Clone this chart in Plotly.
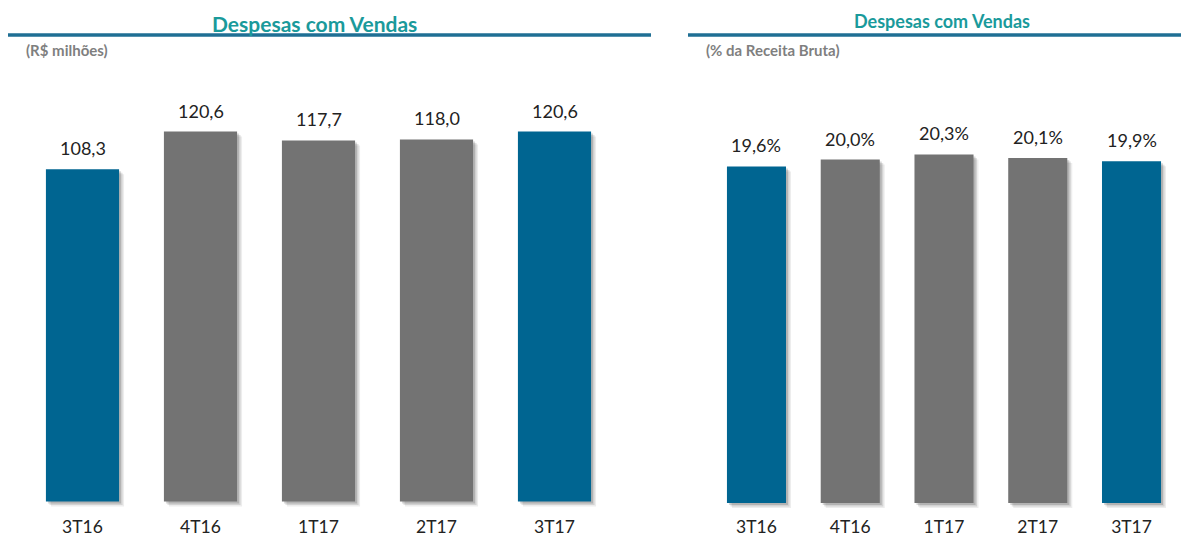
import plotly.graph_objects as go

categories = ["3T16", "4T16", "1T17", "2T17", "3T17"]
values_rs = [108.3, 120.6, 117.7, 118.0, 120.6]
values_pct = [19.6, 20.0, 20.3, 20.1, 19.9]
labels_rs = ["108,3", "120,6", "117,7", "118,0", "120,6"]
labels_pct = ["19,6%", "20,0%", "20,3%", "20,1%", "19,9%"]

BLUE = "#006591"
GRAY = "#737373"
TEAL = "#1a9a9b"
LINE = "#1f6f94"
colors = [BLUE, GRAY, GRAY, GRAY, BLUE]

W, H = 1181, 537
FONT = "Lato"

fig = go.Figure()


def px_x(p):
    return p / W


def px_y(p):
    return (H - p) / H


def add_panel(xa, ya, vals, labels, x0, x1, zero_px, ppu, top_val, width_frac, standoff):
    bottom = -6.0 / ppu
    top_px = zero_px - top_val * ppu
    bot_px = zero_px + 6.0
    xname = "x" if xa == "xaxis" else "x2"
    yname = "y" if ya == "yaxis" else "y2"
    cat_px = (x1 - x0) / len(vals)
    half = width_frac / 2
    for dx, dy, a in [(5, 5, 0.07), (3.5, 3.5, 0.11), (2, 2, 0.15)]:
        fig.add_trace(go.Bar(
            x=categories, y=vals, base=[-dy / ppu] * len(vals),
            width=width_frac, offset=-half + dx / cat_px,
            marker=dict(color=f"rgba(0,0,0,{a})", line=dict(width=0)),
            xaxis=xname, yaxis=yname, hoverinfo="skip", showlegend=False))
    fig.add_trace(go.Bar(
        x=categories, y=vals, width=width_frac, offset=-half,
        marker=dict(color=colors, line=dict(width=0)),
        xaxis=xname, yaxis=yname, showlegend=False))
    for c, v, t in zip(categories, vals, labels):
        fig.add_annotation(x=c, y=v, text=t, xref=xname, yref=yname,
                           showarrow=False, yanchor="middle", yshift=21,
                           font=dict(family=FONT, size=18, color="#222222"))
    fig.update_layout(**{
        xa: dict(domain=[px_x(x0), px_x(x1)], anchor=yname, automargin=False,
                 showgrid=False, zeroline=False, showline=False,
                 ticks="", tickfont=dict(family=FONT, size=17.5, color="#222222"),
                 ticklabelstandoff=standoff),
        ya: dict(domain=[px_y(bot_px), px_y(top_px)], range=[bottom, top_val],
                 anchor=xname, showgrid=False, zeroline=False, automargin=False,
                 showticklabels=False, showline=False, ticks=""),
    })


add_panel("xaxis", "yaxis", values_rs, labels_rs, 23.5, 613.5, 501.5, 3.068, 140, 0.62, 7)
add_panel("xaxis2", "yaxis2", values_pct, labels_pct, 709.6, 1178.4, 503, 17.17, 24, 0.63, 5)

fig.add_annotation(x=px_x(314), y=px_y(23), xref="paper", yref="paper", showarrow=False,
                   text="<b>Despesas com Vendas</b>", xanchor="center", yanchor="middle",
                   font=dict(family=FONT, size=21, color=TEAL))
fig.add_annotation(x=px_x(942), y=px_y(21), xref="paper", yref="paper", showarrow=False,
                   text="<b>Despesas com Vendas</b>", xanchor="center", yanchor="middle",
                   font=dict(family=FONT, size=18, color=TEAL))
fig.add_annotation(x=px_x(24), y=px_y(49.5), xref="paper", yref="paper", showarrow=False,
                   text="<b>(R$ milhões)</b>", xanchor="left", yanchor="middle",
                   font=dict(family=FONT, size=15, color="#7f7f7f"))
fig.add_annotation(x=px_x(704), y=px_y(49.5), xref="paper", yref="paper", showarrow=False,
                   text="<b>(% da Receita Bruta)</b>", xanchor="left", yanchor="middle",
                   font=dict(family=FONT, size=15, color="#7f7f7f"))

fig.add_shape(type="line", xref="paper", yref="paper", x0=px_x(8), x1=px_x(651),
              y0=px_y(35), y1=px_y(35), line=dict(color=LINE, width=3.5))
fig.add_shape(type="line", xref="paper", yref="paper", x0=px_x(688), x1=px_x(1181),
              y0=px_y(35), y1=px_y(35), line=dict(color=LINE, width=3.5))

fig.update_layout(width=W, height=H, margin=dict(l=0, r=0, t=0, b=0),
                  paper_bgcolor="white", plot_bgcolor="white",
                  barmode="overlay", showlegend=False)

fig.write_html("out.html", config={"displayModeBar": False},
               post_script="document.body.style.margin='0';")
